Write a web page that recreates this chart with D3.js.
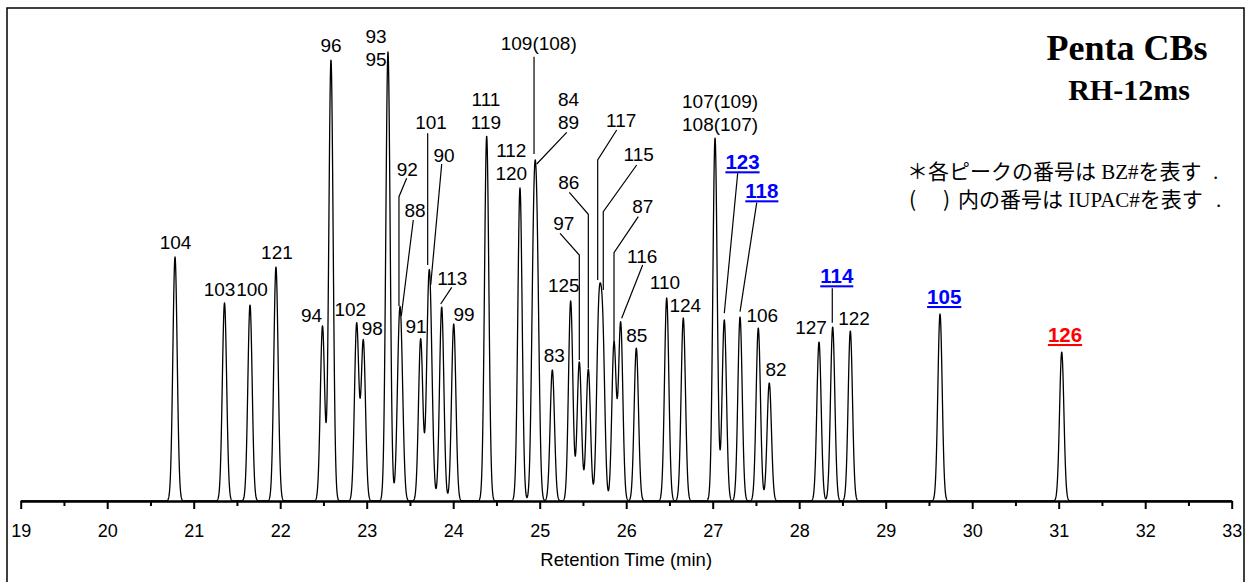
<!DOCTYPE html>
<html><head><meta charset="utf-8">
<script src="https://cdn.jsdelivr.net/npm/d3@7"></script>
<style>
html,body{margin:0;padding:0;background:#fff;}
svg{display:block;}
</style></head><body>
<svg id="chart" width="1255" height="582"></svg>
<script>
// ---------------- data ----------------
// retention time of each peak (min)
const peakTimes = [20.784, 21.356, 21.651, 21.951, 22.489, 22.587, 22.884, 22.961, 23.246, 23.373,
  23.400, 23.624, 23.712, 23.740, 23.867, 24.006, 24.387, 24.772, 24.931, 24.969,
  25.146, 25.358, 25.458, 25.562, 25.682, 25.728, 25.859, 25.936, 26.117, 26.468,
  26.660, 27.027, 27.134, 27.316, 27.527, 27.654, 28.229, 28.387, 28.591, 29.628, 31.035];
// apex height read at each labelled peak (signal units)
const peakHeights = [244, 198, 196, 234, 175, 441, 177, 160, 449, 194,
  184, 162, 234, 215, 194, 177, 365, 313, 341, 334,
  131, 200, 139, 132, 217, 210, 158, 178, 153, 203,
  183, 363, 181, 184, 173, 118, 159, 174, 170, 187, 149];
// height of each single component (co-eluting pairs are smaller than the merged apex)
const peakAmplitudes = [244, 198, 196, 234, 175, 441, 177, 160, 449, 120,
  105, 162, 150, 120, 194, 177, 365, 313, 235, 220,
  131, 200, 139, 132, 172, 160, 158, 178, 153, 203,
  183, 363, 181, 184, 173, 118, 159, 174, 170, 187, 149];
const peakLabels = [["104"],["103"],["100"],["121"],["94"],["96"],["102"],["98"],["93","95"],["92"],
  ["88"],["91"],["101"],["90"],["113"],["99"],["111","119"],["112","120"],["109(108)"],["84","89"],
  ["83"],["125"],["97"],["86"],["117"],["115"],["87"],["116"],["85"],["110"],
  ["124"],["107(109)","108(107)"],["123"],["118"],["106"],["82"],["127"],["114"],["122"],["105"],["126"]];
const blueLabels = ["123", "118", "114", "105"];
const redLabels = ["126"];
const majorTicks = [19,20,21,22,23,24,25,26,27,28,29,30,31,32,33];
const minorTicks = [19.5,20.5,21.5,22.5,23.5,24.5,25.5,26.5,27.5,28.5,29.5,30.5,31.5,32.5];
const xTitle = "Retention Time (min)";
const titleMain = "Penta CBs";
const titleSub = "RH-12ms";
const noteLine1 = ["＊各ピークの番号は", " BZ#", "を表す", "．"];
const noteLine2 = ["(", ")", "内の番号は", " IUPAC#", "を表す", "．"];

// ---------------- layout (pixel offsets from each peak apex) ----------------
const labelOffsets = [[0.5,-8],[-5,-7.5],[2,-9],[1,-8],[-11,-4],[0,-8],[-6.4,-8],[9,-6],[-12,14],[8.3,-131],
  [13.7,-100.3],[-4.7,-5.7],[2.7,-137.7],[13.3,-124.3],[10.6,-22],[10.3,-3.3],[-0.7,-6.7],[-8.7,-8],[5,-110],[31.5,-37.7],
  [1.9,-8.3],[-6.9,-9.3],[-15.5,-132],[-19.5,-179.7],[22.5,-157.3],[36,-130.3],[28.7,-129.7],[21.6,-60.3],[0.4,-6.3],[-1.7,-8.7],
  [2,-6.3],[5,-7.3],[18.2,-150.7],[21.8,-118.7],[4,-6.3],[6.7,-7],[-8,-8],[4.1,-43.7],[3.7,-6],[4.2,-10],[3.3,-10]];
const leaderOffsets = {
  9: [[7.7,-128.7],[0,-110.3],[0,-1]],
  10: [[12,-97],[0,-1]],
  12: [[-0.6,-133.7],[-0.6,-2]],
  13: [[11,-122],[0,-1]],
  14: [[10,-19.7],[-1,-3]],
  18: [[0.3,-103.3],[0.3,-6]],
  19: [[29.7,-34.7],[-0.3,-3]],
  22: [[-19.3,-128.7],[0,-107],[0,-2]],
  23: [[-19,-176.7],[0,-154.7],[0,-1]],
  24: [[18,-154],[-1,-124],[-1,-4]],
  25: [[34,-126],[0.6,-79.3],[0.6,-1]],
  26: [[24.3,-126.3],[0,-90.3],[0,-1.3]],
  27: [[22,-58],[1,-4.7]],
  32: [[13.4,-146.7],[0,-6.7]],
  33: [[16.7,-114.3],[0,-5.3]],
  37: [[-0.4,-38.7],[-0.4,-4.3]]
};

const SANS = "'Liberation Sans', Arial, sans-serif";
const SERIF = "'Liberation Serif', 'Times New Roman', serif";
const JP = "'Noto Sans CJK JP', sans-serif";

const svg = d3.select("#chart");
const x = d3.scaleLinear().domain([19, 33]).range([20.7, 1231.7]);
const y = d3.scaleLinear().domain([0, 500]).range([501, 1]);

// frame
svg.append("path").attr("d", "M7,600 V8 H1244 V600")
  .attr("fill", "none").attr("stroke", "#000").attr("stroke-width", 1.5);

// ---- chromatogram: sum of Gaussian components ----
const SIGMA = 0.025;
const n = peakTimes.length;
const K = (a, b) => Math.exp(-((a - b) ** 2) / (2 * SIGMA * SIGMA));
const signal = t => { let s = 0; for (let j = 0; j < n; j++) s += peakAmplitudes[j] * K(t, peakTimes[j]); return s; };
const samples = d3.range(19, 33.0001, 0.002).map(t => [t, signal(t)]);
svg.append("path").datum(samples)
  .attr("fill", "none").attr("stroke", "#000").attr("stroke-width", 1.3).attr("stroke-linejoin", "round")
  .attr("d", d3.line().x(d => x(d[0])).y(d => y(d[1])));

// ---- axis ----
const gMinor = svg.append("g").attr("transform", `translate(0,${y(0)})`)
  .call(d3.axisBottom(x).tickValues(minorTicks).tickSize(5).tickSizeOuter(0).tickFormat(""));
const gAxis = svg.append("g").attr("transform", `translate(0,${y(0)})`)
  .call(d3.axisBottom(x).tickValues(majorTicks).tickSize(8).tickSizeOuter(0).tickPadding(15).tickFormat(d3.format("d")));
[gMinor, gAxis].forEach(g => {
  g.select(".domain").attr("stroke", "#000").attr("stroke-width", 2.2);
  g.selectAll(".tick line").attr("stroke", "#000").attr("stroke-width", 2);
});
gAxis.selectAll(".tick text").attr("font-family", SANS).attr("font-size", 18).attr("fill", "#000");

svg.append("text").attr("x", (x(19) + x(33)) / 2).attr("y", 566)
  .attr("text-anchor", "middle").attr("font-family", SANS).attr("font-size", 18.5).text(xTitle);

// ---- peak labels ----
const LINE_H = 23;
peakTimes.forEach((t, i) => {
  const px = x(t), py = y(peakHeights[i]);
  const [dx, dy] = labelOffsets[i];
  const lines = peakLabels[i];
  const isBlue = blueLabels.includes(lines[0]);
  const isRed = redLabels.includes(lines[0]);
  const special = isBlue || isRed;
  lines.forEach((s, k) => {
    svg.append("text")
      .attr("x", px + dx)
      .attr("y", py + dy - (lines.length - 1 - k) * LINE_H)
      .attr("text-anchor", "middle")
      .attr("font-family", SANS)
      .attr("font-size", special ? 20.5 : 19)
      .attr("font-weight", special ? "bold" : "normal")
      .attr("fill", isBlue ? "#0000ff" : isRed ? "#ff0000" : "#000")
      .style("text-decoration", special ? "underline" : "none")
      .text(s);
  });
  if (leaderOffsets[i]) {
    svg.append("polyline")
      .attr("points", leaderOffsets[i].map(p => [px + p[0], py + p[1]].join(",")).join(" "))
      .attr("fill", "none").attr("stroke", "#000").attr("stroke-width", 1.2);
  }
});

// ---- titles ----
svg.append("text").attr("x", 1127).attr("y", 59.5).attr("text-anchor", "middle")
  .attr("font-family", SERIF).attr("font-weight", "bold").attr("font-size", 36).text(titleMain);
svg.append("text").attr("x", 1129).attr("y", 100).attr("text-anchor", "middle")
  .attr("font-family", SERIF).attr("font-weight", "bold").attr("font-size", 30).text(titleSub);

// ---- notes ----
const t1 = svg.append("text").attr("x", 907).attr("y", 178.5).attr("font-size", 21).attr("fill", "#000");
t1.append("tspan").attr("font-family", JP).text(noteLine1[0]);
t1.append("tspan").attr("font-family", SERIF).text(noteLine1[1]);
t1.append("tspan").attr("font-family", JP).text(noteLine1[2]);
t1.append("tspan").attr("font-family", SERIF).attr("x", 1213).text(".");
const t2 = svg.append("text").attr("y", 206.5).attr("font-size", 21).attr("fill", "#000");
t2.append("tspan").attr("font-family", JP).attr("x", 909).text(noteLine2[0]);
t2.append("tspan").attr("font-family", JP).attr("x", 943).text(noteLine2[1]);
t2.append("tspan").attr("font-family", JP).attr("x", 958).text(noteLine2[2]);
t2.append("tspan").attr("font-family", SERIF).text(noteLine2[3]);
t2.append("tspan").attr("font-family", JP).text(noteLine2[4]);
t2.append("tspan").attr("font-family", SERIF).attr("x", 1216).text(".");
</script>
</body></html>
